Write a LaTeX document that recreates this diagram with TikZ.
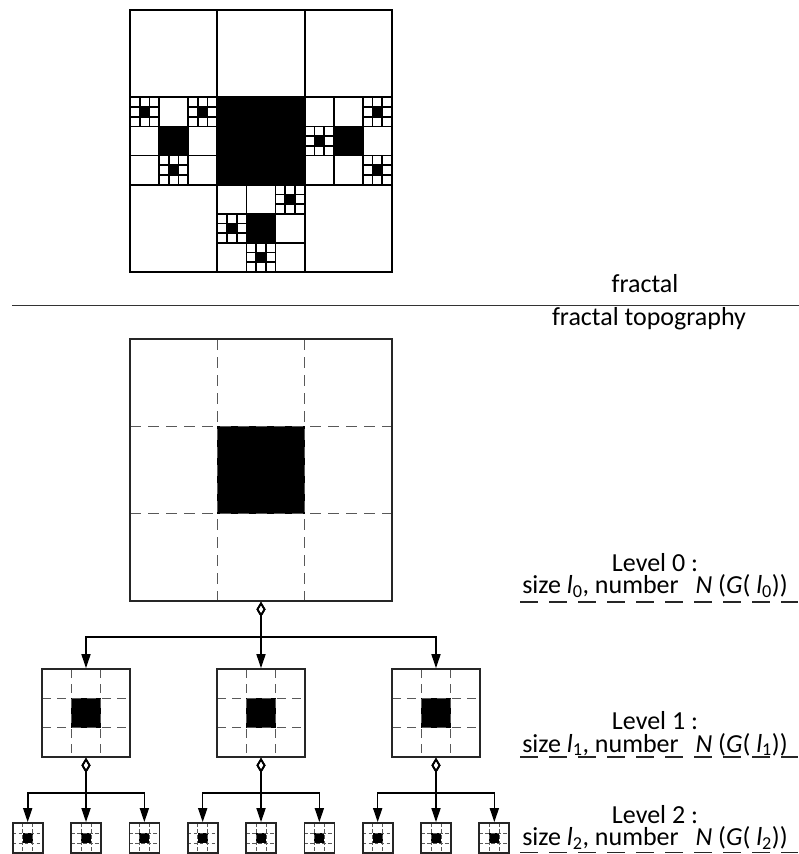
\documentclass[tikz,border=0pt]{standalone}
\usepackage{fontspec}
\setmainfont{Carlito}
\usetikzlibrary{arrows.meta,calc}

% 3x3 cell grid with a filled centre cell: #1,#2 = top-left corner, #3 = side
\newcommand\fracgrid[3]{%
  \fill ({#1+#3/3},{#2+#3/3}) rectangle ++({#3/3},{#3/3});
  \draw[fracline] (#1,#2) rectangle ++(#3,#3);
  \draw[fracline] ({#1+#3/3},#2) -- ++(0,#3) ({#1+2*#3/3},#2) -- ++(0,#3)
                  (#1,{#2+#3/3}) -- ++(#3,0) (#1,{#2+2*#3/3}) -- ++(#3,0);
}
% caption text of one level
\newcommand\levelcap[1]{Level #1 :\\ size \textit{l}\textsubscript{#1}, number\hspace{11pt} \textit{N} (\textit{G}( \textit{l}\textsubscript{#1}))}

\tikzset{
  fracline/.style={draw=black, line width=1.7pt},
  lbl/.style={font=\fontsize{26}{26}\selectfont, inner sep=0pt, anchor=base},
  levellabel/.style={font=\fontsize{26}{22.5}\selectfont, inner sep=0pt, align=center, anchor=south},
  uline/.style={draw=black!85, line width=1.5pt, dash pattern=on 18.3pt off 10.7pt},
  tile/.style n args={3}{draw=black!85, line width=1.7pt, minimum size=#1, inner sep=0pt,
    path picture={
      \coordinate (nw) at (path picture bounding box.north west);
      \coordinate (se) at (path picture bounding box.south east);
      \fill ($(nw)!1/3!(se)$) rectangle ($(nw)!2/3!(se)$);
      \draw[black!65, line width=#3, dash pattern=#2]
        ($(nw)!1/3!(nw -| se)$) -- ($(nw |- se)!1/3!(se)$)
        ($(nw)!2/3!(nw -| se)$) -- ($(nw |- se)!2/3!(se)$)
        ($(nw)!1/3!(nw |- se)$) -- ($(nw -| se)!1/3!(se)$)
        ($(nw)!2/3!(nw |- se)$) -- ($(nw -| se)!2/3!(se)$);
    }},
  conn/.style={draw=black, line width=1.6pt,
    {Diamond[open, length=15pt, width=9pt]}-{Triangle[length=14pt, width=9pt]}},
}

\begin{document}
\begin{tikzpicture}[x=1pt, y=-1pt]
\useasboundingbox (0,0) rectangle (799,854);

% ---- fractal ----
\fill (217.33,97.33) rectangle (304.67,184.67);
\draw[fracline] (130,10) rectangle (392,272);
\draw[fracline] (217.33,10) -- (217.33,272) (304.67,10) -- (304.67,272)
                (130,97.33) -- (392,97.33) (130,184.67) -- (392,184.67);
% middle-left cell
\fracgrid{130}{97.33}{87.33}
\fracgrid{130}{97.33}{29.11}
\fracgrid{188.22}{97.33}{29.11}
\fracgrid{159.11}{155.55}{29.11}
% middle-right cell
\fracgrid{304.67}{97.33}{87.33}
\fracgrid{362.89}{97.33}{29.11}
\fracgrid{304.67}{126.44}{29.11}
\fracgrid{362.89}{155.55}{29.11}
% bottom-middle cell
\fracgrid{217.33}{184.67}{87.33}
\fracgrid{275.55}{184.67}{29.11}
\fracgrid{217.33}{213.78}{29.11}
\fracgrid{246.44}{242.89}{29.11}

\node[lbl] (tfr) at (645,292) {fractal};
\draw[line width=1.6pt, black!80] (12,305.5) -- (799,305.5);
\node[lbl] (ttop) at (649,325) {fractal topography};

% ---- topography levels ----
\node[tile={262pt}{on 11pt off 7pt}{1.4pt}] (L0) at (261,470) {};

\node[tile={88pt}{on 9pt off 6pt}{1.3pt}] (A) at (86,713) {};
\node[tile={88pt}{on 9pt off 6pt}{1.3pt}] (B) at (261,713) {};
\node[tile={88pt}{on 9pt off 6pt}{1.3pt}] (C) at (436,713) {};

\foreach \i in {0,...,8}
  \node[tile={30pt}{on 3.5pt off 2.5pt}{1pt}] (D\i) at ({27.7+58.33*\i},838) {};

\draw[conn] (L0.south) -- ++(0,35) -| (A.north);
\draw[conn] (L0.south) -- (B.north);
\draw[conn] (L0.south) -- ++(0,35) -| (C.north);

\draw[conn] (A.south) -- ++(0,35) -| (D0.north);
\draw[conn] (A.south) -- (D1.north);
\draw[conn] (A.south) -- ++(0,35) -| (D2.north);
\draw[conn] (B.south) -- ++(0,35) -| (D3.north);
\draw[conn] (B.south) -- (D4.north);
\draw[conn] (B.south) -- ++(0,35) -| (D5.north);
\draw[conn] (C.south) -- ++(0,35) -| (D6.north);
\draw[conn] (C.south) -- (D7.north);
\draw[conn] (C.south) -- ++(0,35) -| (D8.north);

% ---- level captions ----
\node[levellabel] (c0) at (655,598) {\levelcap{0}};
\draw[uline] (520,602) -- (798,602);

\node[levellabel] (c1) at (655,756) {\levelcap{1}};
\draw[uline] (520,757) -- (798,757);

\node[levellabel] (c2) at (655,849.5) {\levelcap{2}};
\draw[uline] (520,852.5) -- (798,852.5);
\end{tikzpicture}
\end{document}
